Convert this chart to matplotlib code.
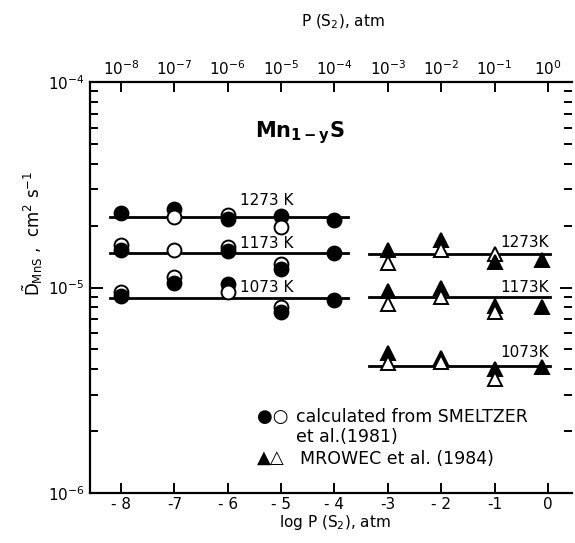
import matplotlib
matplotlib.use("Agg")
import matplotlib.pyplot as plt
import numpy as np

plt.rcParams['font.family'] = ['DejaVu Sans']
plt.rcParams['mathtext.default'] = 'regular'

# ---- data (log P(S2) vs D, cm2/s) ----
# Smeltzer et al. (1981) - filled circles
sm_fill_x = [-8, -7, -6, -5, -4,
             -8, -6, -5, -4,
             -8, -7, -6, -5, -4]
sm_fill_y = [2.30e-5, 2.40e-5, 2.15e-5, 2.23e-5, 2.13e-5,
             1.53e-5, 1.51e-5, 1.23e-5, 1.48e-5,
             9.10e-6, 1.05e-5, 1.04e-5, 7.62e-6, 8.69e-6]
# Smeltzer et al. (1981) - open circles
sm_open_x = [-7, -6, -5,
             -8, -7, -6, -5,
             -8, -7, -6, -5]
sm_open_y = [2.21e-5, 2.25e-5, 1.96e-5,
             1.61e-5, 1.52e-5, 1.57e-5, 1.30e-5,
             9.55e-6, 1.13e-5, 9.55e-6, 8.07e-6]
# Mrowec et al. (1984) - filled triangles
mr_fill_x = [-3, -2, -1, -0.12,
             -3, -2, -1, -0.12,
             -3, -2, -1, -0.12]
mr_fill_y = [1.52e-5, 1.70e-5, 1.33e-5, 1.36e-5,
             9.66e-6, 9.91e-6, 8.13e-6, 8.07e-6,
             4.78e-6, 4.52e-6, 4.00e-6, 4.11e-6]
# Mrowec et al. (1984) - open triangles
mr_open_x = [-3, -2, -1,
             -3, -2, -1,
             -3, -2, -1]
mr_open_y = [1.32e-5, 1.52e-5, 1.46e-5,
             8.32e-6, 8.95e-6, 7.62e-6,
             4.28e-6, 4.35e-6, 3.57e-6]

# fitted horizontal lines
temps = ['1273 K', '1173 K', '1073 K']
left_x = [-8.2, -3.75]
left_D = [2.20e-5, 1.47e-5, 8.86e-6]
right_x = [-3.35, 0.04]
right_D = [1.45e-5, 8.95e-6, 4.16e-6]
right_labels = ['1273K', '1173K', '1073K']

top_ticks = [-8, -7, -6, -5, -4, -3, -2, -1, 0]
top_labels = [r'$10^{%d}$' % t for t in top_ticks]
bottom_labels = ['- 8', '-7', '- 6', '- 5', '- 4', '-3', '- 2', '-1', '0']

fig = plt.figure(figsize=(5.75, 5.43), dpi=100)
ax = fig.add_axes([90/575, 1-493/543, (572-90)/575, (493-82)/543])
ax.set_yscale('log')
ax.set_xlim(-8.58, 0.45)
ax.set_ylim(1e-6, 1e-4)

lw = 2.0
for D in left_D:
    ax.plot(left_x, [D, D], color='black', lw=lw, zorder=2)
for D in right_D:
    ax.plot(right_x, [D, D], color='black', lw=lw, zorder=2)

# markers: lower points drawn on top
pts = []
for x, y in zip(sm_fill_x, sm_fill_y):
    pts.append((x, y, 'o', 'black'))
for x, y in zip(sm_open_x, sm_open_y):
    pts.append((x, y, 'o', 'white'))
for x, y in zip(mr_fill_x, mr_fill_y):
    pts.append((x, y, '^', 'black'))
for x, y in zip(mr_open_x, mr_open_y):
    pts.append((x, y, '^', 'white'))
pts.sort(key=lambda p: -p[1])
for i, (x, y, m, fc) in enumerate(pts):
    ax.plot([x], [y], marker=m, ms=10 if m == 'o' else 10.5, mfc=fc, mec='black',
            mew=1.4, linestyle='none', zorder=3 + i * 0.01)

# temperature labels
left_fac = [1.2, 1.12, 1.13]
for lab, D, f in zip(temps, left_D, left_fac):
    ax.text(-5.27, D * f, lab, ha='center', va='center', fontsize=11)
right_fac = [1.14, 1.12, 1.16]
for lab, D, f in zip(right_labels, right_D, right_fac):
    ax.text(-0.43, D * f, lab, ha='center', va='center', fontsize=11)

ax.text(-4.65, 5.65e-5, r'$\mathbf{Mn}_{\mathbf{1-y}}\mathbf{S}$', ha='center', va='center',
        fontsize=15)

# legend text
ax.text(-5.45, 2.34e-6, '●○', fontsize=13, va='center', ha='left')
ax.text(-4.73, 2.34e-6, 'calculated from SMELTZER', fontsize=12.5, va='center', ha='left')
ax.text(-4.73, 1.87e-6, 'et al.(1981)', fontsize=12.5, va='center', ha='left')
ax.text(-5.45, 1.47e-6, '▲△', fontsize=13, va='center', ha='left')
ax.text(-4.65, 1.47e-6, 'MROWEC et al. (1984)', fontsize=12.5, va='center', ha='left')

# axes styling
for s in ['left', 'bottom', 'top']:
    ax.spines[s].set_linewidth(1.6)
ax.spines['right'].set_visible(False)

ax.set_xticks(top_ticks)
ax.set_xticklabels(bottom_labels, fontsize=11)
ax.tick_params(axis='x', which='both', direction='in', length=7, width=1.4, top=False, pad=3)
ax.tick_params(axis='y', which='major', direction='in', length=9, width=1.4,
               right=True, labelsize=11, pad=4)
ax.tick_params(axis='y', which='minor', direction='in', length=6, width=1.4, right=True)
ax.yaxis.set_major_locator(matplotlib.ticker.LogLocator(base=10, numticks=5))
ax.yaxis.set_minor_locator(matplotlib.ticker.LogLocator(base=10, subs=np.arange(2, 10), numticks=20))
ax.yaxis.set_minor_formatter(matplotlib.ticker.NullFormatter())

ax2 = ax.twiny()
ax2.set_xlim(ax.get_xlim())
ax2.set_xticks(top_ticks)
ax2.set_xticklabels(top_labels, fontsize=11)
ax2.tick_params(axis='x', direction='in', length=7, width=1.4, pad=3)
for s in ax2.spines.values():
    s.set_visible(False)

fig.text(335/575, 1-522/543, r'log P (S$_2$), atm', ha='center', va='center', fontsize=11)
fig.text(343/575, 1-22/543, r'P (S$_2$), atm', ha='center', va='center', fontsize=11)
fig.text(33/575, 1-233/543, r'$\tilde{D}_{MnS}$ ,  cm$^2$ s$^{-1}$', rotation=90,
         ha='center', va='center', fontsize=12)

fig.savefig('out.png', dpi=100)
